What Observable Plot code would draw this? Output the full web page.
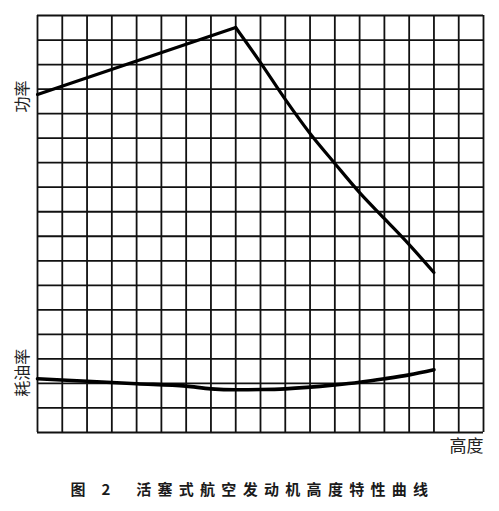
<!DOCTYPE html>
<html>
<head>
<meta charset="utf-8">
<script src="https://cdn.jsdelivr.net/npm/d3@7"></script>
<script src="https://cdn.jsdelivr.net/npm/@observablehq/plot@0.6"></script>
<style>
  html, body { margin: 0; padding: 0; background: #fff; }
  #chart { width: 499px; height: 470px; }
  #caption {
    width: 499px; text-align: center; white-space: pre;
    font-family: "Noto Sans CJK SC", sans-serif; font-size: 15px; font-weight: 700;
    letter-spacing: 6.3px; color: #1a1a1a; margin-top: 8px; line-height: 22px;
    text-indent: 6px;
  }
</style>
</head>
<body>
<div id="chart"></div>
<div id="caption"></div>
<script>
// Altitude positions (grid units) and values (grid units)
const powerRiseAlt = [0, 8];
const powerRiseVal = [13.78, 16.51];
const powerFallAlt = [8, 9, 10, 11, 12, 13, 14, 15, 16];
const powerFallVal = [16.51, 15.08, 13.58, 12.19, 10.97, 9.78, 8.72, 7.66, 6.52];

const fuelAlt = [0, 2, 4, 6, 7, 8, 9, 10, 12, 13, 14, 15, 16];
const fuelVal = [2.19, 2.09, 1.99, 1.89, 1.78, 1.74, 1.75, 1.78, 1.94, 2.05, 2.19, 2.35, 2.56];

const xGrid = d3.range(0, 19);
const yGrid = d3.range(0, 18);

const labelPower = "功率";
const labelFuel = "耗油率";
const labelAlt = "高度";
const captionText = "图 2  活塞式航空发动机高度特性曲线";

const toRows = (xs, ys) => xs.map((a, i) => ({alt: a, v: ys[i]}));
const powerRise = toRows(powerRiseAlt, powerRiseVal);
const powerFall = toRows(powerFallAlt, powerFallVal);
const fuel = toRows(fuelAlt, fuelVal);

const font = "Noto Sans CJK SC, sans-serif";

const chart = Plot.plot({
  width: 499,
  height: 470,
  marginLeft: 37,
  marginRight: 16,
  marginTop: 15,
  marginBottom: 38,
  x: {domain: [0, 18], axis: null},
  y: {domain: [0, 17], axis: null},
  style: {fontFamily: font, background: "#fff"},
  marks: [
    Plot.ruleX(xGrid, {stroke: "#111", strokeWidth: 1.8}),
    Plot.ruleY(yGrid, {stroke: "#111", strokeWidth: 1.8}),
    Plot.line(powerRise, {x: "alt", y: "v", stroke: "#000", strokeWidth: 3.2, curve: "linear"}),
    Plot.line(powerFall, {x: "alt", y: "v", stroke: "#000", strokeWidth: 3.2, curve: "monotone-x", strokeLinejoin: "round"}),
    Plot.line(fuel, {x: "alt", y: "v", stroke: "#000", strokeWidth: 3.6, curve: "monotone-x"}),
    Plot.text([labelPower], {x: powerRiseAlt[0], y: powerRiseVal[0], text: d => d, rotate: -90, dx: -15, dy: 2,
      fontSize: 16, fill: "#222", style: "letter-spacing:4px", fontFamily: font}),
    Plot.text([labelFuel], {x: fuelAlt[0], y: fuelVal[0], text: d => d, rotate: -90, dx: -15, dy: -6,
      fontSize: 16, fill: "#222", style: "letter-spacing:3px", fontFamily: font}),
    Plot.text([labelAlt], {frameAnchor: "bottom-right", text: d => d, textAnchor: "end", dy: 19,
      fontSize: 17, fill: "#222", fontFamily: font})
  ]
});
document.getElementById("chart").appendChild(chart);
document.getElementById("caption").textContent = captionText;
</script>
</body>
</html>
